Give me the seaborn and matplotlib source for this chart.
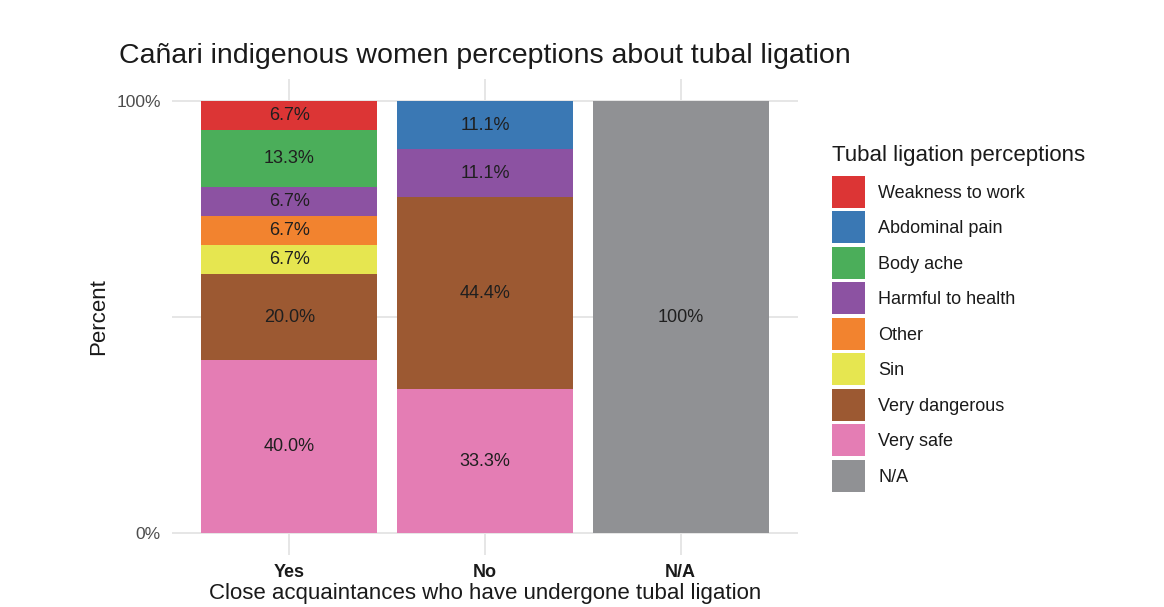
import matplotlib
matplotlib.use("Agg")
import matplotlib.pyplot as plt
from matplotlib.patches import Patch
import seaborn as sns
import numpy as np
import pandas as pd

# ---- data ----
groups = ["Yes", "No", "N/A"]
categories = ["Weakness to work", "Abdominal pain", "Body ache", "Harmful to health",
              "Other", "Sin", "Very dangerous", "Very safe", "N/A"]
yes_pct = [6.7, 0.0, 13.3, 6.7, 6.7, 6.7, 20.0, 40.0, 0.0]
no_pct = [0.0, 11.1, 0.0, 11.1, 0.0, 0.0, 44.4, 33.3, 0.0]
na_pct = [0.0, 0.0, 0.0, 0.0, 0.0, 0.0, 0.0, 0.0, 100.0]
colors = ["#DC3535", "#3A78B4", "#4BAE5A", "#8C52A2", "#F2832F",
          "#E6E650", "#9C5932", "#E47DB4", "#909194"]
y_ticks = [0, 50, 100]
y_tick_labels = ["0%", "", "100%"]

sns.set_theme(style="white")
plt.rcParams["font.family"] = ["Liberation Sans", "DejaVu Sans"]

W, H = 1164, 607
fig = plt.figure(figsize=(W / 100, H / 100), dpi=100)
ax = fig.add_axes([172 / W, 1 - 554.6 / H, (798 - 172) / W, (554.6 - 79.4) / H])

df = pd.DataFrame({"category": categories, "Yes": yes_pct, "No": no_pct, "N/A": na_pct})

# stack from bottom (last category) to top (first category)
bottoms = np.zeros(len(groups))
for i in range(len(categories) - 1, -1, -1):
    vals = np.array([df.loc[i, g] for g in groups])
    sns.barplot(x=groups, y=vals, order=groups, color=colors[i], width=0.9,
                bottom=bottoms, saturation=1, linewidth=0, ax=ax, zorder=2)
    bottoms = bottoms + vals

# labels in the middle of each segment
for cont in ax.containers:
    for p in cont.patches:
        h = p.get_height()
        if h > 0:
            lab = "100%" if round(h) == 100 else f"{h:.1f}%"
            ax.text(p.get_x() + p.get_width() / 2, p.get_y() + h / 2, lab,
                    ha="center", va="center", fontsize=13, color="#1f1f1f", zorder=3)

ax.set_xlim(-0.6, 2.6)
ax.set_ylim(-5, 105)
ax.set_yticks(y_ticks)
ax.set_yticklabels(y_tick_labels)
ax.grid(True, color="#e6e6e6", linewidth=1.4, zorder=0)
ax.set_axisbelow(True)
for s in ax.spines.values():
    s.set_visible(False)
ax.tick_params(axis="both", length=0)
ax.tick_params(axis="y", labelsize=12.5, labelcolor="#4d4d4d", pad=8)
ax.tick_params(axis="x", labelsize=13, labelcolor="#1a1a1a", pad=7)
for t in ax.get_xticklabels():
    t.set_fontweight("bold")

ax.set_xlabel("Close acquaintances who have undergone tubal ligation",
              fontsize=16, color="#1a1a1a", labelpad=1.5)
ax.set_ylabel("Percent", fontsize=16, color="#1a1a1a", labelpad=5)

fig.text(119 / W, 1 - 63 / H, "Cañari indigenous women perceptions about tubal ligation",
         fontsize=20.5, color="#1a1a1a", ha="left", va="baseline")

# legend title as separate text
fig.text(832 / W, 1 - 161 / H, "Tubal ligation perceptions",
         fontsize=16, color="#1a1a1a", ha="left", va="baseline")

fs = 13 * 100 / 72
key_h = 32.0
hh = (key_h / fs - 0.245) / 0.65
handles = [Patch(facecolor=c, edgecolor="none") for c in colors]
leg = ax.legend(handles, categories,
                loc="upper left", bbox_to_anchor=(832 / W, 1 - 176 / H),
                bbox_transform=fig.transFigure, frameon=False, borderpad=0,
                borderaxespad=0, fontsize=13,
                handlelength=33 / fs, handleheight=hh, labelspacing=3.5 / fs,
                handletextpad=13 / fs)
for t in leg.get_texts():
    t.set_color("#1a1a1a")

fig.savefig("out.png", dpi=100)
